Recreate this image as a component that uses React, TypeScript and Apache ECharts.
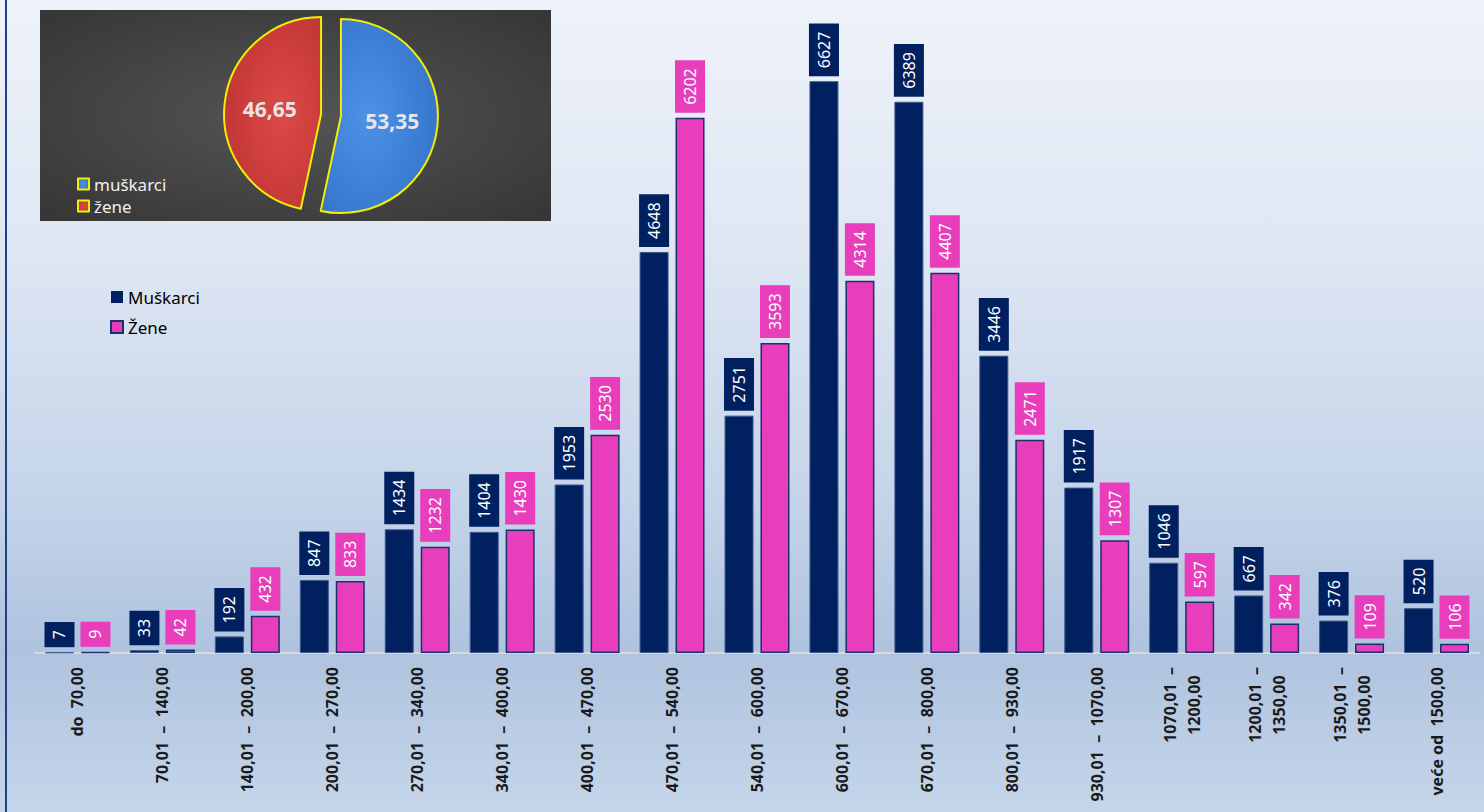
import React, { useEffect, useRef } from 'react';
import * as echarts from 'echarts';

const categories: string[] = [
  'do  70,00',
  '70,01  –  140,00',
  '140,01  –  200,00',
  '200,01  –  270,00',
  '270,01  –  340,00',
  '340,01  –  400,00',
  '400,01  –  470,00',
  '470,01  –  540,00',
  '540,01  –  600,00',
  '600,01  –  670,00',
  '670,01  –  800,00',
  '800,01  –  930,00',
  '930,01  –  1070,00',
  '1070,01  –\n1200,00',
  '1200,01  –\n1350,00',
  '1350,01  –\n1500,00',
  'veće od  1500,00',
];

const seriesNames = ['Muškarci', 'Žene'];
const muskarci: number[] = [7, 33, 192, 847, 1434, 1404, 1953, 4648, 2751, 6627, 6389, 3446, 1917, 1046, 667, 376, 520];
const zene: number[] = [9, 42, 432, 833, 1232, 1430, 2530, 6202, 3593, 4314, 4407, 2471, 1307, 597, 342, 109, 106];

const pieNames = ['muškarci', 'žene'];
const pieValues: number[] = [53.35, 46.65];

const NAVY = '#002060';
const PINK = '#E83EBC';
const FONT = '"Noto Sans", "Open Sans", sans-serif';

function fmtCategory(v: string): string {
  const lines = v.split('\n');
  if (lines.length > 1) lines[1] = lines[1] + '\u00A0\u00A0';
  return lines.join('\n').replace(/  /g, ' \u00A0');
}

export default function App() {
  const ref = useRef<HTMLDivElement>(null);
  useEffect(() => {
    const chart = echarts.init(ref.current as HTMLDivElement, null, { renderer: 'svg' });
    const barLabel = (bg: string) => ({
      show: true,
      position: 'top',
      distance: 5,
      rotate: 90,
      align: 'left',
      verticalAlign: 'middle',
      color: '#ffffff',
      backgroundColor: bg,
      padding: [6, 8, 6, 8],
      fontSize: 16,
      lineHeight: 18,
      fontFamily: FONT,
    });
    const option: any = {
      animation: false,
      backgroundColor: {
        type: 'linear', x: 0, y: 0, x2: 0, y2: 1,
        colorStops: [
          { offset: 0, color: '#eef2fa' },
          { offset: 0.3, color: '#dfe7f3' },
          { offset: 0.6, color: '#c6d5ea' },
          { offset: 0.8, color: '#afc3df' },
          { offset: 1, color: '#c5d6ea' },
        ],
      },
      textStyle: { fontFamily: FONT },
      graphic: [
        {
          type: 'rect',
          z: 1,
          silent: true,
          shape: { x: 40, y: 10, width: 511, height: 211 },
          style: {
            fill: {
              type: 'radial', x: 0.5, y: 0.5, r: 1.3,
              colorStops: [
                { offset: 0, color: '#555555' },
                { offset: 1, color: '#1b1b1b' },
              ],
            },
          },
        },
        {
          type: 'line',
          z: 10,
          silent: true,
          shape: { x1: 6, y1: 0, x2: 6, y2: 812 },
          style: { stroke: '#1f3f8a', lineWidth: 2 },
        },
      ],
      legend: [
        {
          orient: 'vertical',
          left: 110,
          top: 286,
          padding: 0,
          itemWidth: 12,
          itemHeight: 12,
          itemGap: 8,
          icon: 'rect',
          textStyle: { fontSize: 17, color: '#000000', lineHeight: 22, fontFamily: FONT },
          data: [
            { name: seriesNames[0], itemStyle: { borderWidth: 0 } },
            { name: seriesNames[1], itemStyle: { borderColor: '#1c2f6e', borderWidth: 2 } },
          ],
        },
        {
          orient: 'vertical',
          left: 77,
          top: 174,
          padding: 0,
          itemWidth: 11,
          itemHeight: 11,
          itemGap: 2,
          icon: 'rect',
          textStyle: { fontSize: 17, color: '#f0f0f0', lineHeight: 20, fontFamily: FONT },
          data: pieNames,
        },
      ],
      grid: { left: 35, right: 5, top: 49, bottom: 159 },
      xAxis: {
        type: 'category',
        data: categories,
        boundaryGap: true,
        axisTick: { show: false },
        axisLine: { lineStyle: { color: '#d9d9d9', width: 2 } },
        axisLabel: {
          interval: 0,
          rotate: 90,
          margin: 14,
          fontSize: 16,
          fontWeight: 'bold',
          lineHeight: 24,
          color: '#1a1a1a',
          fontFamily: FONT,
          formatter: fmtCategory,
        },
      },
      yAxis: {
        type: 'value',
        min: 0,
        max: 7000,
        show: false,
        splitLine: { show: false },
      },
      series: [
        {
          name: seriesNames[0],
          type: 'bar',
          data: muskarci,
          barWidth: 29,
          barGap: '24%',
          itemStyle: { color: NAVY, borderColor: '#3e5a8c', borderWidth: 1 },
          label: barLabel(NAVY),
        },
        {
          name: seriesNames[1],
          type: 'bar',
          data: zene,
          barWidth: 29,
          itemStyle: { color: PINK, borderColor: '#1c2f6e', borderWidth: 1.5 },
          label: barLabel(PINK),
        },
        {
          type: 'pie',
          z: 3,
          center: [331, 115],
          radius: 97,
          startAngle: 90,
          clockwise: true,
          selectedMode: 'multiple',
          selectedOffset: 10,
          itemStyle: { borderColor: '#f0f000', borderWidth: 2 },
          label: {
            show: true,
            position: 'inside',
            color: '#e6e6e6',
            fontSize: 21,
            fontWeight: 'bold',
            fontFamily: FONT,
            formatter: (p: any) => Number(p.value).toFixed(2).replace('.', ','),
          },
          labelLine: { show: false },
          emphasis: { scale: false },
          data: [
            {
              name: pieNames[0],
              value: pieValues[0],
              selected: true,
              itemStyle: {
                color: {
                  type: 'radial', x: 0.4, y: 0.5, r: 0.8,
                  colorStops: [
                    { offset: 0, color: '#4d92e8' },
                    { offset: 1, color: '#2f6cc2' },
                  ],
                },
              },
            },
            {
              name: pieNames[1],
              value: pieValues[1],
              selected: true,
              itemStyle: {
                color: {
                  type: 'radial', x: 0.6, y: 0.5, r: 0.8,
                  colorStops: [
                    { offset: 0, color: '#dc4a48' },
                    { offset: 1, color: '#b92f2f' },
                  ],
                },
              },
            },
          ],
        },
      ],
    };
    chart.setOption(option);
    return () => chart.dispose();
  }, []);
  return <div ref={ref} style={{ position: 'fixed', left: 0, top: 0, width: 1484, height: 812 }} />;
}
